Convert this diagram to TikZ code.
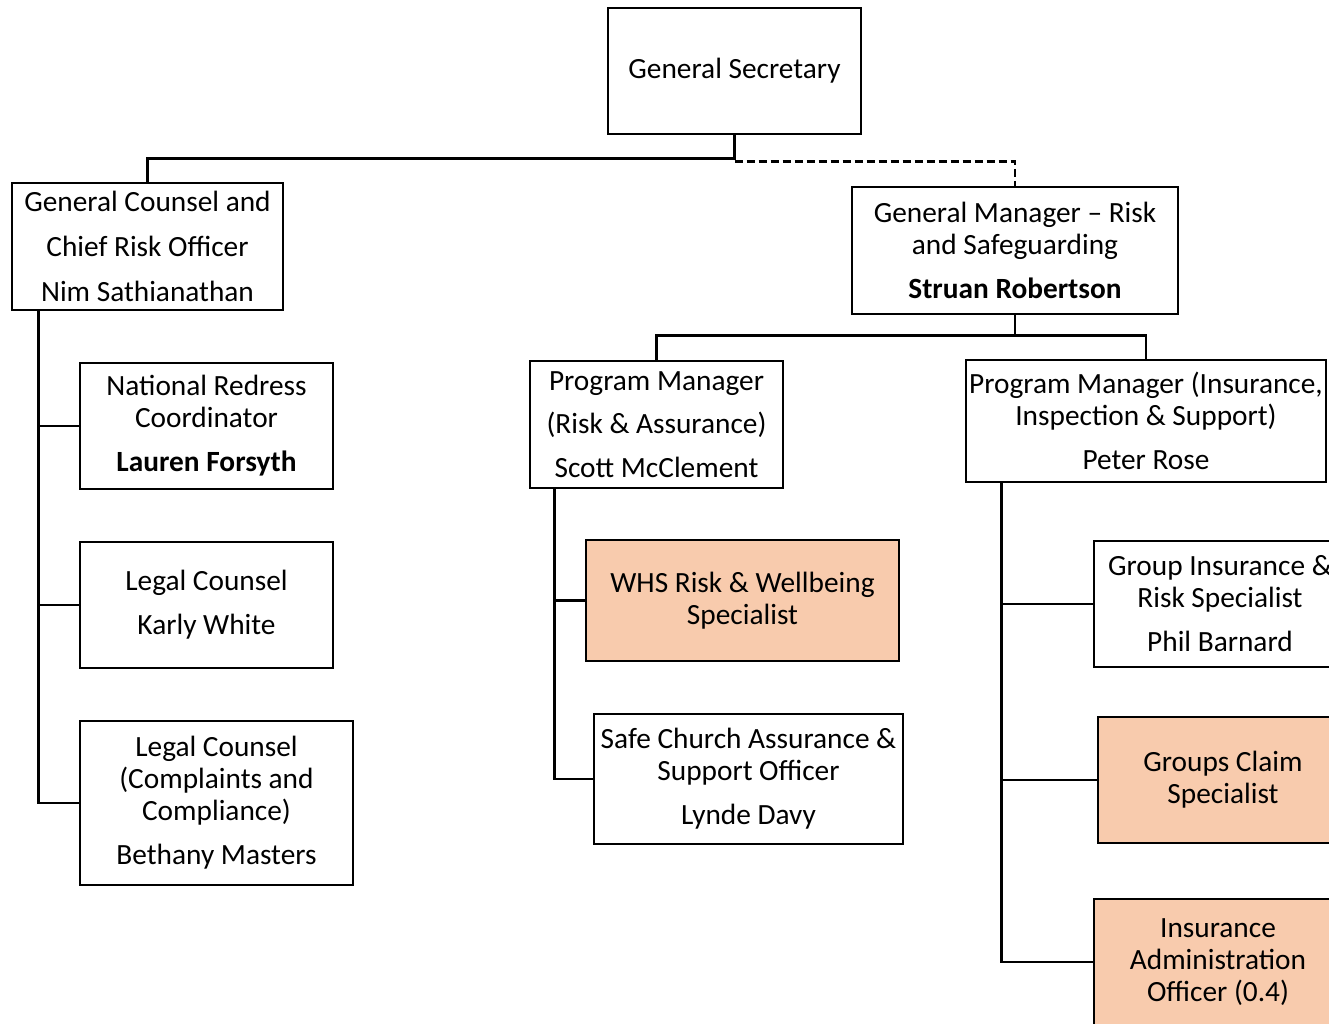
\documentclass[tikz,border=0pt]{standalone}
\usepackage{fontspec}
\setmainfont{Carlito}
\usetikzlibrary{calc}
\definecolor{peach}{HTML}{F8CBAD}
\tikzset{
  box/.style={draw=black, line width=1.9pt, inner sep=0pt, align=center, font=\fontsize{22pt}{24pt}\selectfont},
  hl/.style={fill=peach},
  conn/.style={line width=1.9pt},
  dconn/.style={line width=1.9pt, dash pattern=on 6pt off 3pt},
}
\newcommand{\bx}[7]{%
  \node[box,#6, minimum width={(#4-#2)*0.75pt}, minimum height={(#5-#3)*0.75pt}] (#1) at ({(#2+#4)/2},{(#3+#5)/2}) {#7};}
\begin{document}
\begin{tikzpicture}[x=0.75pt,y=-0.75pt]
\useasboundingbox (0,0) rectangle (1329,1024);
\clip (0,0) rectangle (1329,1024);
\bx{gs}{608}{8}{861}{134}{}{General Secretary}
\bx{gc}{12}{183}{283}{310}{}{General Counsel and\\[9.75pt]Chief Risk Officer\\[9.75pt]Nim Sathianathan}
\bx{gm}{852}{187}{1178}{314}{}{General Manager -- Risk\\and Safeguarding\\[9pt]\textbf{Struan Robertson}}
\bx{pmra}{530}{361}{783}{488}{}{Program Manager\\[8pt](Risk \& Assurance)\\[9pt]Scott McClement}
\bx{pmi}{966}{360}{1326}{482}{}{Program Manager (Insurance,\\Inspection \& Support)\\[9pt]Peter Rose}
\bx{nrc}{80}{363}{333}{489}{}{National Redress\\Coordinator\\[9pt]\textbf{Lauren Forsyth}}
\bx{lc}{80}{542}{333}{668}{}{Legal Counsel\\[9pt]Karly White}
\bx{lcc}{80}{721}{353}{885}{}{Legal Counsel\\(Complaints and\\Compliance)\\[9pt]Bethany Masters}
\bx{whs}{586}{540}{899}{661}{hl}{WHS Risk \& Wellbeing\\Specialist}
\bx{sc}{594}{714}{903}{844}{}{Safe Church Assurance \&\\Support Officer\\[9pt]Lynde Davy}
\bx{gi}{1094}{541}{1346}{667}{}{Group Insurance \&\\Risk Specialist\\[9pt]Phil Barnard}
\bx{gcs}{1098}{717}{1348}{843}{hl}{Groups Claim\\Specialist}
\bx{ia}{1094}{899}{1342}{1025}{hl}{Insurance\\Administration\\Officer (0.4)}
% connectors
\draw[conn] (gs.south) -- ++(0,23) -| (gc.north);
\draw[dconn] ($(gs.south)+(0,26)$) -| (gm.north);
\draw[conn] (gm.south) -- ++(0,20) coordinate (gmj);
\draw[conn] (gmj) -| (pmra.north);
\draw[conn] (gmj) -| (pmi.north);
\coordinate (gcb) at ($(gc.south west)+(28,0)$);
\draw[conn] (gcb) |- (lcc.west);
\draw[conn] (gcb) |- (nrc.west);
\draw[conn] (gcb) |- (lc.west);
\coordinate (pmrab) at ($(pmra.south west)+(26,0)$);
\draw[conn] (pmrab) |- (sc.west);
\draw[conn] (pmrab) |- (whs.west);
\coordinate (pmib) at ($(pmi.south west)+(37,0)$);
\draw[conn] (pmib) |- (ia.west);
\draw[conn] (pmib) |- (gi.west);
\draw[conn] (pmib) |- (gcs.west);
\end{tikzpicture}
\end{document}
